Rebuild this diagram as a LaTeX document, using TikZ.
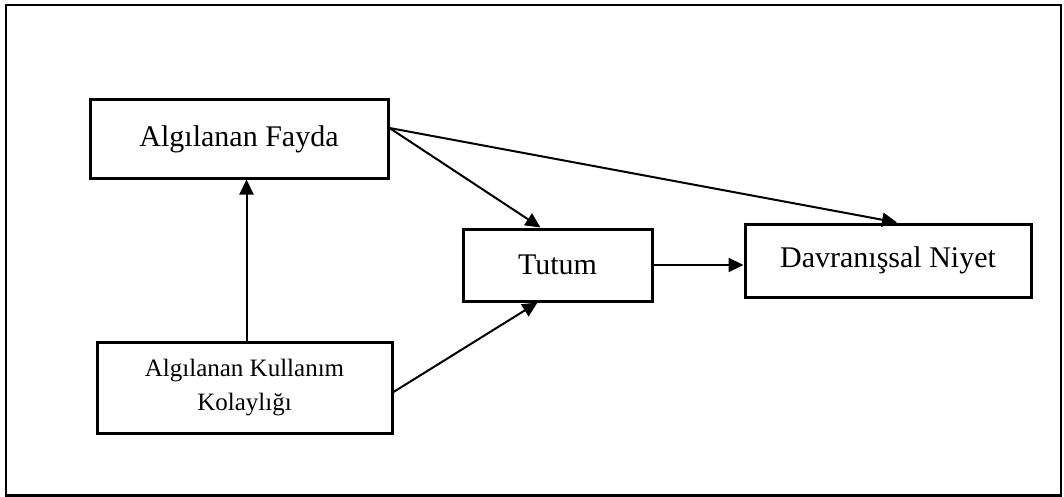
\documentclass[tikz,border=0pt]{standalone}
\usepackage{fontspec}
\setmainfont{Liberation Serif}
\usetikzlibrary{arrows.meta,calc}
\begin{document}
\begin{tikzpicture}[x=1pt,y=-1pt,
  box/.style={draw,line width=3pt,rectangle,inner sep=0pt,align=center},
  conn/.style={line width=2pt,-{Triangle[length=15pt,width=14pt]}}]
\useasboundingbox (0,0) rectangle (1064,497);
\draw[line width=2.2pt] (6,5) rectangle (1061,495.5);
\node[box,minimum width=298pt,minimum height=78pt,font=\fontsize{30}{33}\selectfont] (AF) at (239,139) {Algılanan Fayda};
\node[box,minimum width=189pt,minimum height=72pt,font=\fontsize{30}{33}\selectfont] (Tu) at (557.5,265) {Tutum};
\node[box,minimum width=286pt,minimum height=73pt,font=\fontsize{30}{33}\selectfont] (DN) at (888,260.5) {Davranışsal Niyet};
\node[box,minimum width=295pt,minimum height=91pt,font=\fontsize{25}{34}\selectfont] (AK) at (244.5,387.5) {Algılanan Kullanım\\Kolaylığı};
\draw[conn] ($(AK.north)+(2,0)$) -- ($(AK.north |- AF.south)+(2,0)$);
\draw[conn] ($(AK.east)+(0,4.5)$) -- ($(Tu.south)+(-20,0)$);
\draw[conn] ($(AF.east)+(0,-11)$) -- ($(Tu.north)+(-17,0)$);
\draw[conn] ($(AF.east)+(0,-11)$) -- ($(DN.north)+(9,0)$);
\draw[conn] (Tu.east) -- (Tu.east -| DN.west);
\end{tikzpicture}
\end{document}
